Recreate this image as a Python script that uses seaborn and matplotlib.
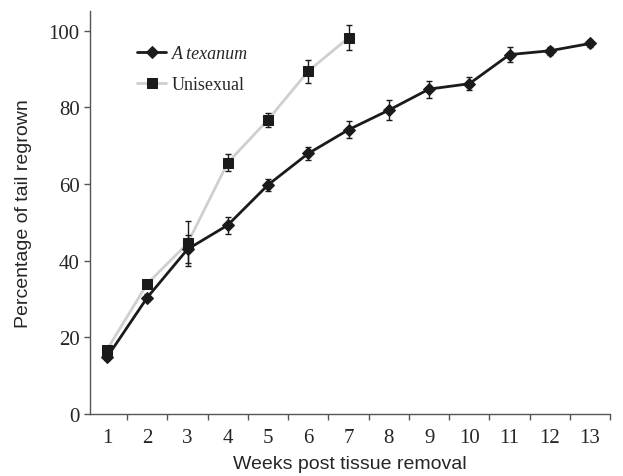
import matplotlib
matplotlib.use("Agg")
import matplotlib.pyplot as plt
import pandas as pd
import seaborn as sns

weeks_tex = [1, 2, 3, 4, 5, 6, 7, 8, 9, 10, 11, 12, 13]
tex_mean = [14.8, 30.4, 43.0, 49.3, 59.8, 68.0, 74.2, 79.3, 84.8, 86.2, 93.8, 94.8, 96.7]
tex_err = [0.6, 1.0, 3.6, 2.2, 1.5, 1.8, 2.2, 2.6, 2.2, 1.7, 2.0, 1.1, 0.8]

weeks_uni = [1, 2, 3, 4, 5, 6, 7]
uni_mean = [16.8, 34.0, 44.5, 65.6, 76.8, 89.5, 98.2]
uni_err = [0.6, 1.1, 5.8, 2.2, 1.8, 3.0, 3.2]

week_labels = [str(w) for w in weeks_tex]

tex = pd.DataFrame({"week": weeks_tex, "pct": tex_mean, "err": tex_err})
uni = pd.DataFrame({"week": weeks_uni, "pct": uni_mean, "err": uni_err})

sns.set_style("ticks")
plt.rcParams["font.family"] = ["Liberation Serif", "DejaVu Serif"]

fig = plt.figure(figsize=(6.23, 4.77), dpi=100)
ax = fig.add_axes([0.1445, 0.13, 0.835, 0.845])

dark = "#1c1a1b"
light = "#cfcfcf"

# unisexual: light line, dark square markers
sns.lineplot(data=uni, x="week", y="pct", ax=ax, color=light, lw=2,
             marker="s", markersize=7, markerfacecolor=dark,
             markeredgecolor=dark, label="Unisexual", zorder=2)
ax.errorbar(uni["week"], uni["pct"], yerr=uni["err"], fmt="none",
            ecolor=dark, elinewidth=1, capsize=2.5, capthick=1, zorder=3)

sns.lineplot(data=tex, x="week", y="pct", ax=ax, color=dark, lw=2,
             marker="D", markersize=6, markerfacecolor=dark,
             markeredgecolor=dark, label="A texanum", zorder=4)
ax.errorbar(tex["week"], tex["pct"], yerr=tex["err"], fmt="none",
            ecolor=dark, elinewidth=1, capsize=2.5, capthick=1, zorder=5)

ax.set_xlim(0.578, 13.5)
ax.set_ylim(0, 105.2)
ax.set_xticks(weeks_tex)
ax.set_xticklabels(week_labels)
ax.set_xticks([w + 0.5 for w in weeks_tex], minor=True)
ax.tick_params(axis="x", which="major", length=0, labelsize=15, pad=10)
ax.tick_params(axis="x", which="minor", length=4, width=1, color="#555555")
ax.set_yticks([0, 20, 40, 60, 80, 100])
ax.tick_params(axis="y", length=4, width=1, color="#555555", labelsize=15)

for s in ["top", "right"]:
    ax.spines[s].set_visible(False)
for s in ["left", "bottom"]:
    ax.spines[s].set_color("#555555")
    ax.spines[s].set_linewidth(1)

ax.set_xlabel("Weeks post tissue removal", family="Liberation Sans",
              fontsize=14, labelpad=6)
ax.set_ylabel("Percentage of tail regrown", family="Liberation Sans",
              fontsize=14, labelpad=12)

handles, labels = ax.get_legend_handles_labels()
order = [labels.index("A texanum"), labels.index("Unisexual")]
leg = ax.legend([handles[i] for i in order], [labels[i] for i in order],
                loc="upper left", bbox_to_anchor=(0.06, 0.955), frameon=False,
                fontsize=13, handlelength=1.6, handletextpad=0.3,
                labelspacing=0.75)
leg.get_texts()[0].set_style("italic")

fig.savefig("out.png", dpi=100)
